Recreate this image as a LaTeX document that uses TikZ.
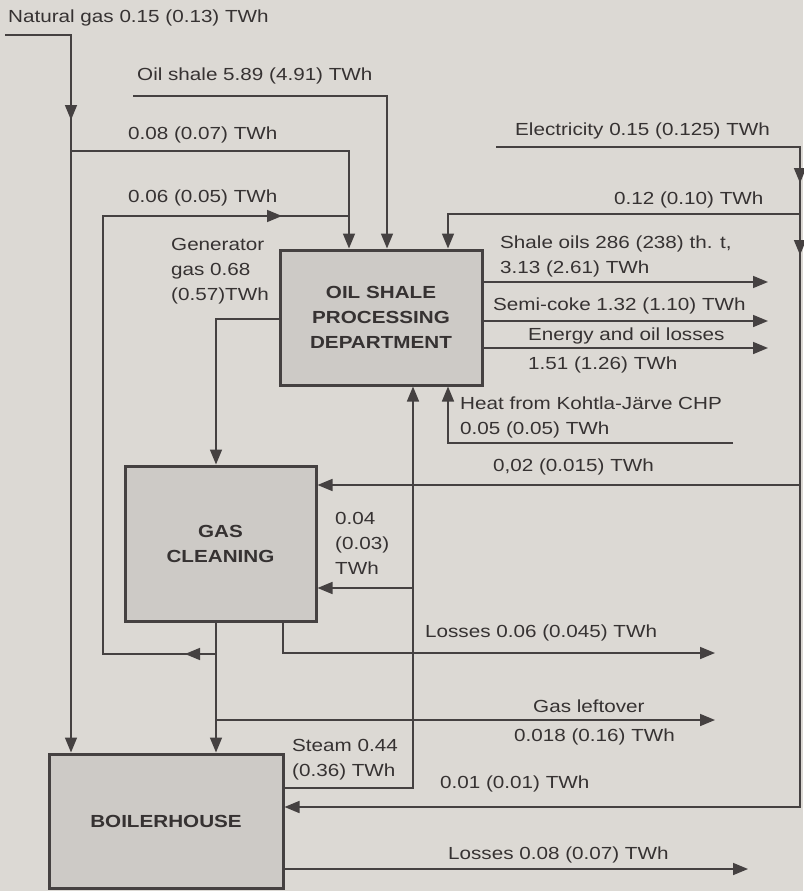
\documentclass[tikz,border=0pt]{standalone}
\usepackage{fontspec}
\setmainfont[FakeStretch=1.18]{Liberation Sans}
\usepackage{xcolor}
\usepackage{tikz}
\usetikzlibrary{arrows.meta,decorations.markings}

\definecolor{paper}{HTML}{DCD9D4}
\definecolor{boxfill}{HTML}{CDCAC6}
\definecolor{ink}{HTML}{454141}
\definecolor{txt}{HTML}{363232}

\begin{document}
\begin{tikzpicture}[
    x=1pt, y=-1pt,
    unit/.style={draw=ink, fill=boxfill, line width=3pt, align=center, text=txt,
        font=\fontsize{17.5}{25}\selectfont\bfseries},
    flow/.style={draw=ink, line width=1.6pt, -{Triangle[length=15pt,width=12pt]}},
    line/.style={draw=ink, line width=1.6pt},
    mid/.style={postaction={decorate, decoration={markings,
        mark=at position #1 with {\arrow{Triangle[length=15pt,width=12pt]}}}}},
    lbl/.style={inner sep=0pt, anchor=west, align=left, text=txt,
        font=\fontsize{17.5}{25}\selectfont}
]
\fill[paper] (0,0) rectangle (803,891);
\useasboundingbox (0,0) rectangle (803,891);

% Units
\node[unit, minimum width=202pt, minimum height=135pt] (ospd) at (381,317.5) {OIL SHALE\\PROCESSING\\DEPARTMENT};
\node[unit, minimum width=191pt, minimum height=155pt] (gc) at (220.5,543.5) {GAS\\CLEANING};
\node[unit, minimum width=234pt, minimum height=134pt] (bh) at (166,821) {BOILERHOUSE};

% Junctions and corners
\coordinate (ng-in) at (5,35);
\coordinate (ng-c) at (71,35);
\coordinate (ng-j) at (71,151);
\coordinate (ng-d) at (349,151);
\coordinate (os-in) at (133,96);
\coordinate (os-c) at (387,96);
\coordinate (rg-j) at (216,654);
\coordinate (rg-c1) at (103,654);
\coordinate (rg-c2) at (103,216);
\coordinate (rg-d) at (349,216);
\coordinate (el-in) at (496,147);
\coordinate (el-c) at (800,147);
\coordinate (el-b) at (800,807);
\coordinate (el-j1) at (800,214);
\coordinate (el-c1) at (448,214);
\coordinate (el-j2) at (800,485);
\coordinate (heat-in) at (733,443);
\coordinate (heat-c) at (448,443);
\coordinate (st-c) at (413,788);
\coordinate (st-j) at (413,588);
\coordinate (gg-c) at (216,319);
\coordinate (gl-j) at (216,720);
\coordinate (gl-out) at (715,720);
\coordinate (ls1-c) at (283,653);
\coordinate (ls1-out) at (715,653);
\coordinate (oil-out) at (768,282);
\coordinate (coke-out) at (768,321);
\coordinate (loss-out) at (768,348);
\coordinate (ls2-out) at (748,869);

% Inputs from the top
\draw[flow, mid=151pt] (ng-in) -- (ng-c) -- (ng-c |- bh.north);
\draw[flow] (ng-j) -- (ng-d) -- (ng-d |- ospd.north);
\draw[flow] (os-in) -- (os-c) -- (os-c |- ospd.north);
\draw[line, mid=31pt, mid=730pt] (rg-j) -- (rg-c1) -- (rg-c2) -- (rg-d);

% Electricity
\draw[flow, mid=340pt, mid=412pt] (el-in) -- (el-c) -- (el-b) -- (el-b -| bh.east);
\draw[flow] (el-j1) -- (el-c1) -- (el-c1 |- ospd.north);
\draw[flow] (el-j2) -- (el-j2 -| gc.east);

% Department products
\draw[flow] (oil-out -| ospd.east) -- (oil-out);
\draw[flow] (coke-out -| ospd.east) -- (coke-out);
\draw[flow] (loss-out -| ospd.east) -- (loss-out);
\draw[flow] (heat-in) -- (heat-c) -- (heat-c |- ospd.south);

% Gas and steam
\draw[flow] (gg-c -| ospd.west) -- (gg-c) -- (gg-c |- gc.north);
\draw[flow] (gg-c |- gc.south) -- (gg-c |- bh.north);
\draw[flow] (gl-j) -- (gl-out);
\draw[flow] (ls1-c |- gc.south) -- (ls1-c) -- (ls1-out);
\draw[flow] (st-c -| bh.east) -- (st-c) -- (st-c |- ospd.south);
\draw[flow] (st-j) -- (st-j -| gc.east);
\draw[flow] (ls2-out -| bh.east) -- (ls2-out);

% Labels
\node[lbl] (l-ng) at (8,18) {Natural gas 0.15 (0.13) TWh};
\node[lbl] (l-os) at (137,76) {Oil shale 5.89 (4.91) TWh};
\node[lbl] (l-ngd) at (128,135) {0.08 (0.07) TWh};
\node[lbl] (l-rg) at (128,198) {0.06 (0.05) TWh};
\node[lbl] (l-gg) at (171,271) {Generator\\gas 0.68\\(0.57)TWh};
\node[lbl] (l-el) at (515,131) {Electricity 0.15 (0.125) TWh};
\node[lbl] (l-el1) at (614,200) {0.12 (0.10) TWh};
\node[lbl] (l-oil) at (500,256) {Shale oils 286 (238) th. t,\\3.13 (2.61) TWh};
\node[lbl] (l-coke) at (493,306) {Semi-coke 1.32 (1.10) TWh};
\node[lbl] (l-loss) at (528,336) {Energy and oil losses};
\node[lbl] (l-loss2) at (528,365) {1.51 (1.26) TWh};
\node[lbl] (l-heat) at (460,417) {Heat from Kohtla-Järve CHP\\0.05 (0.05) TWh};
\node[lbl] (l-el2) at (493,467) {0,02 (0.015) TWh};
\node[lbl] (l-st1) at (335,543) {0.04\\(0.03)\\TWh};
\node[lbl] (l-ls1) at (425,633) {Losses 0.06 (0.045) TWh};
\node[lbl] (l-gl) at (533,706) {Gas leftover};
\node[lbl] (l-gl2) at (514,737) {0.018 (0.16) TWh};
\node[lbl] (l-st) at (292,760) {Steam 0.44\\(0.36) TWh};
\node[lbl] (l-el3) at (440,784) {0.01 (0.01) TWh};
\node[lbl] (l-ls2) at (448,855) {Losses 0.08 (0.07) TWh};
\end{tikzpicture}
\end{document}
